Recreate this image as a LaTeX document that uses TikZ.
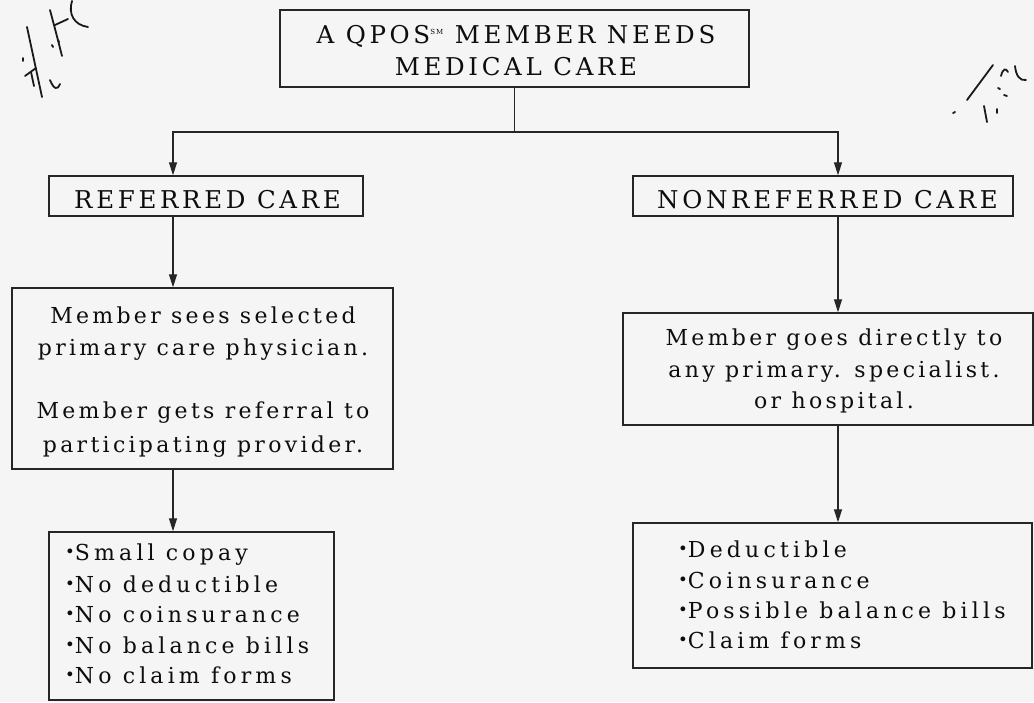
\documentclass[tikz,border=0pt]{standalone}
\usepackage{fontspec}
\setmainfont{DejaVu Serif}[LetterSpace=15]
\newfontfamily\lowfont{DejaVu Serif}[LetterSpace=19]
\newfontfamily\memfont{DejaVu Serif}[LetterSpace=15]
\usetikzlibrary{arrows.meta}
\newcommand{\bul}{\raisebox{0.25ex}{\scalebox{0.75}{•}}}
\begin{document}
\begin{tikzpicture}[x=1pt,y=-1pt,
  box/.style={draw=black!85, line width=1.4pt, inner sep=0pt},
  arr/.style={draw=black!85, line width=1.1pt, -{Triangle[width=8pt,length=13pt]}},
  ln/.style={draw=black!85, line width=1.1pt},
  big/.style={font=\fontsize{24.5}{32}\selectfont, inner sep=0pt, text=black!95},
  med/.style={font=\lowfont\fontsize{22}{31}\selectfont, inner sep=0pt, text=black!95},
  mem/.style={font=\memfont\fontsize{22}{31}\selectfont, inner sep=0pt, text=black!95},
  scrib/.style={draw=black!90, line width=1.8pt, line cap=round}]
\useasboundingbox[fill=black!4] (0,0) rectangle (1034,702);
% boxes
\node[box, minimum width=469pt, minimum height=77pt] (top) at (514.5,48.5) {};
\node[box, minimum width=314pt, minimum height=40pt] (ref) at (206,196) {};
\node[box, minimum width=380pt, minimum height=40pt] (nref) at (823,196) {};
\node[box, minimum width=381pt, minimum height=181pt] (lmem) at (202.5,378.5) {};
\node[box, minimum width=410pt, minimum height=112pt] (rmem) at (828,369) {};
\node[box, minimum width=285pt, minimum height=168pt] (lbul) at (191.5,616) {};
\node[box, minimum width=399pt, minimum height=145pt] (rbul) at (832.5,595.5) {};
% texts
\node[big, anchor=base] (t1) at (516,43) {A QPOS\raisebox{0.7ex}{\fontsize{7}{7}\selectfont SM} MEMBER NEEDS};
\node[big, anchor=base] (t2) at (516,75) {MEDICAL CARE};
\node[big, anchor=base] (tref) at (207.5,208) {REFERRED CARE};
\node[big, anchor=base] (tnref) at (827.5,208) {NONREFERRED CARE};
\node[mem, anchor=base] (lm1) at (203,323) {Member sees selected};
\node[mem, anchor=base] (lm2) at (203,355) {primary care physician.};
\node[mem, anchor=base] (lm3) at (203,418) {Member gets referral to};
\node[mem, anchor=base] (lm4) at (203,452) {participating provider.};
\node[mem, anchor=base] (rm1) at (834,345) {Member goes directly to};
\node[mem, anchor=base] (rm2) at (834,377) {any primary. specialist.};
\node[mem, anchor=base] (rm3) at (834,408) {or hospital.};
\node[med, anchor=base west] (lb1) at (65,560) {\bul Small copay};
\node[med, anchor=base west] (lb2) at (65,592) {\bul No deductible};
\node[med, anchor=base west] (lb3) at (65,622) {\bul No coinsurance};
\node[med, anchor=base west] (lb4) at (65,653) {\bul No balance bills};
\node[med, anchor=base west] (lb5) at (65,683) {\bul No claim forms};
\node[med, anchor=base west] (rb1) at (678,557) {\bul Deductible};
\node[med, anchor=base west] (rb2) at (678,588) {\bul Coinsurance};
\node[med, anchor=base west] (rb3) at (678,618) {\bul Possible balance bills};
\node[med, anchor=base west] (rb4) at (678,648) {\bul Claim forms};
% connectors
\coordinate (colL) at (173,0);
\coordinate (colR) at (838,0);
\coordinate (jy) at (0,132);
\draw[ln] (top.south) -- (top.south |- jy) coordinate (jm);
\draw[arr] (jm) -| (colL |- ref.north);
\draw[arr] (jm) -| (colR |- nref.north);
\draw[arr] (colL |- ref.south) -- (colL |- lmem.north);
\draw[arr] (colL |- lmem.south) -- (colL |- lbul.north);
\draw[arr] (colR |- nref.south) -- (colR |- rmem.north);
\draw[arr] (colR |- rmem.south) -- (colR |- rbul.north);
% handwritten marks
\draw[scrib] (27,27) -- (42,97);
\draw[scrib] (50,10) .. controls (54,25) and (58,40) .. (62,56);
\draw[scrib] (55,25) -- (68,19);
\draw[scrib] (72,1) .. controls (68,14) and (74,25) .. (88,27);
\draw[scrib] (25,76) -- (36,68);
\draw[scrib] (31,72) -- (34,86);
\draw[scrib] (50,80) .. controls (54,90) and (58,90) .. (60,84);
\draw[scrib] (58,40) -- (59,42);
\draw[scrib] (52,45) -- (53,47);
\draw[scrib] (23,58) -- (23,61);
\draw[scrib] (993,65) -- (967,100);
\draw[scrib] (953,113) -- (955,112);
\draw[scrib] (1001,76) .. controls (1003,68) and (1006,68) .. (1008,72);
\draw[scrib] (1015,66) .. controls (1016,76) and (1020,81) .. (1026,80);
\draw[scrib] (998,88) -- (1000,89);
\draw[scrib] (1004,95) -- (1007,96);
\draw[scrib] (984,106) -- (987,122);
\draw[scrib] (997,109) -- (997,113);
\end{tikzpicture}
\end{document}
